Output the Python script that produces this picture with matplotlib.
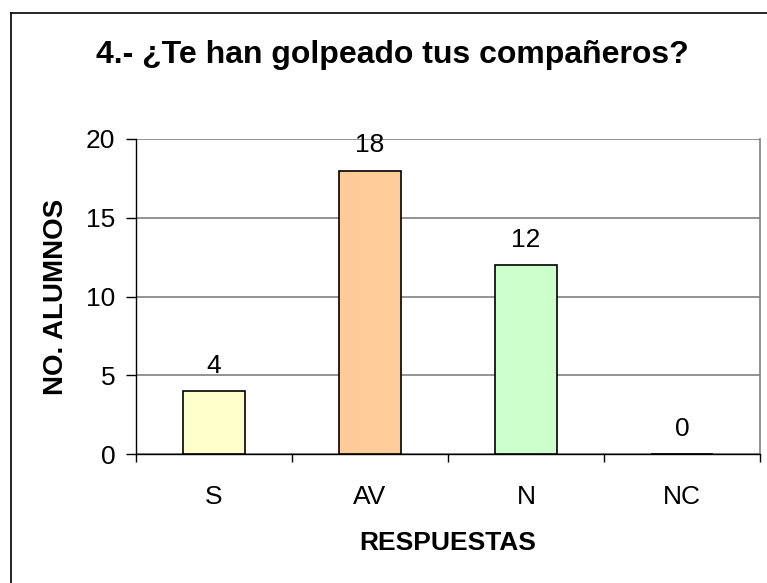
import matplotlib
matplotlib.use("Agg")
import matplotlib.pyplot as plt
from matplotlib.lines import Line2D

categories = ["S", "AV", "N", "NC"]
values = [4, 18, 12, 0]
colors = ["#FFFFCC", "#FFCC99", "#CCFFCC", "#CCFFFF"]
yticks = [0, 5, 10, 15, 20]

plt.rcParams['font.family'] = ['Liberation Sans', 'DejaVu Sans']

W, H = 767, 583
fig = plt.figure(figsize=(W / 100, H / 100), dpi=100)
ax = fig.add_axes([136 / W, 1 - 454 / H, (760 - 136) / W, (454 - 139) / H])

x = list(range(len(categories)))
bars = ax.bar(x, values, width=0.4, color=colors, edgecolor="black", linewidth=1.2, zorder=3)
for xi, v in zip(x, values):
    ax.annotate(str(v), (xi, v), xytext=(0, 13), textcoords="offset points",
                ha="center", va="baseline", fontsize=19)

ax.set_xlim(-0.5, len(categories) - 0.5)
ax.set_ylim(0, 20)
ax.set_yticks(yticks)
ax.set_yticklabels([str(t) for t in yticks], fontsize=19)
ax.yaxis.grid(True, color="#808080", linewidth=1.2, zorder=0)
ax.set_axisbelow(True)

ax.set_xticks([i - 0.5 for i in range(len(categories) + 1)])
ax.set_xticklabels([])
ax.set_xticks(x, minor=True)
ax.set_xticklabels(categories, minor=True, fontsize=19)
ax.tick_params(axis="x", which="major", direction="out", length=6, width=1, color="black")
ax.tick_params(axis="x", which="minor", length=0, pad=22)
ax.tick_params(axis="y", direction="out", length=7, width=1, pad=8)

ax.spines["top"].set_visible(False)
ax.spines["right"].set_color("#808080")
ax.spines["right"].set_linewidth(1.2)
ax.spines["left"].set_color("black")
ax.spines["bottom"].set_color("black")
ax.spines["left"].set_linewidth(1.0)
ax.spines["bottom"].set_linewidth(1.0)

ax.set_xlabel("RESPUESTAS", fontsize=19, fontweight="bold", labelpad=0)
ax.xaxis.set_label_coords(0.5, (454 - 543) / (454 - 139))
ax.set_ylabel("NO. ALUMNOS", fontsize=20, fontweight="bold")
ax.yaxis.set_label_coords((56 - 136) / (760 - 136), 0.5)
ax.xaxis.label.set_va("center")
ax.yaxis.label.set_va("center")

fig.text(392 / W, 1 - 63 / H, "4.- ¿Te han golpeado tus compañeros?",
         ha="center", va="baseline", fontsize=23, fontweight="bold")

# outer chart-area border (left and top visible)
fig.add_artist(Line2D([10.5 / W, 10.5 / W], [0, 1 - 12.5 / H], transform=fig.transFigure,
                      color="black", linewidth=1.2))
fig.add_artist(Line2D([10.5 / W, 1], [1 - 12.5 / H, 1 - 12.5 / H], transform=fig.transFigure,
                      color="black", linewidth=1.2))

fig.savefig("out.png", dpi=100)
